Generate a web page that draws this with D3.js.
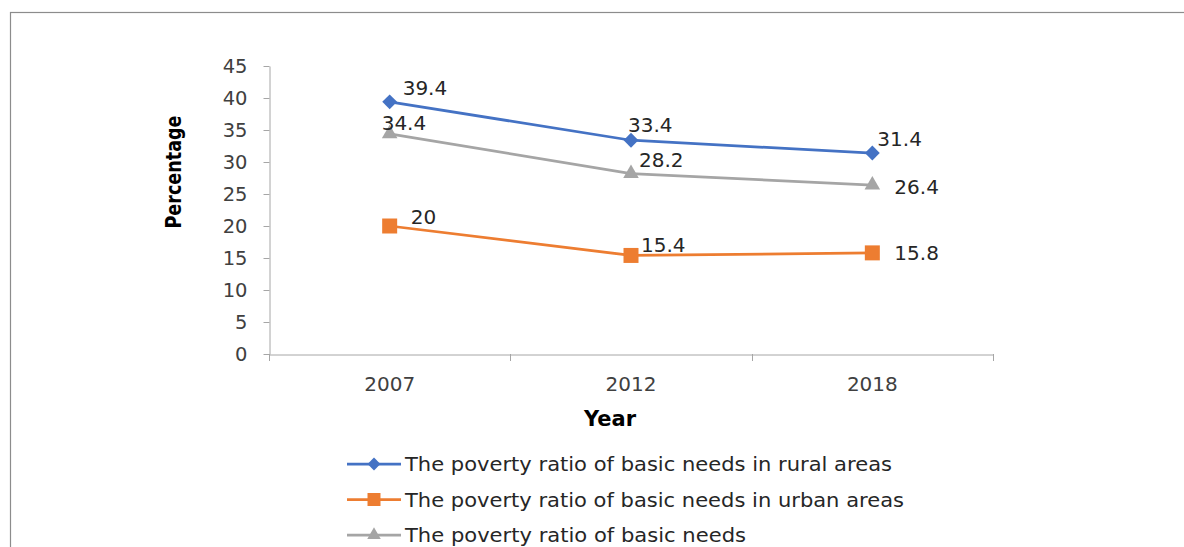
<!DOCTYPE html>
<html>
<head>
<meta charset="utf-8">
<script src="https://cdn.jsdelivr.net/npm/d3@7"></script>
<style>
  html, body { margin: 0; padding: 0; background: #fff; }
  svg { display: block; }
</style>
</head>
<body>
<svg id="chart" width="1184" height="547"></svg>
<script>
// ---- data ----
const years = ["2007", "2012", "2018"];
const rural = [39.4, 33.4, 31.4];
const urban = [20, 15.4, 15.8];
const overall = [34.4, 28.2, 26.4];
const seriesNames = [
  "The poverty ratio of basic needs in rural areas",
  "The poverty ratio of basic needs in urban areas",
  "The poverty ratio of basic needs"
];
const yTicks = [0, 5, 10, 15, 20, 25, 30, 35, 40, 45];

// ---- styling (label placement relative to point) ----
const colors = ["#4472C4", "#ED7D31", "#A5A5A5"];
const labelOffsets = [
  [[13, -7], [-3, -8], [5, -7]],
  [[21, -2], [10, -3], [22, 7]],
  [[-8, -4], [8, -7], [22, 9]]
];
const legendWidths = [487, 499, 341];

const svg = d3.select("#chart");
const font = "'DejaVu Sans', sans-serif";

// outer frame
svg.append("rect").attr("x", 10.5).attr("y", 12.5)
  .attr("width", 1300).attr("height", 700)
  .attr("fill", "none").attr("stroke", "#8c8c8c").attr("stroke-width", 1.2);

const x = d3.scaleBand().domain(years).range([269, 993]);
const y = d3.scaleLinear().domain([0, 45]).range([354, 66]);

// y axis
const yAxis = svg.append("g").attr("transform", "translate(269.5,0)")
  .call(d3.axisLeft(y).tickValues(yTicks).tickSize(6).tickSizeOuter(0).tickPadding(16));
yAxis.select(".domain").attr("stroke", "#a6a6a6");
yAxis.selectAll(".tick line").attr("stroke", "#a6a6a6");
yAxis.selectAll(".tick text").attr("font-family", font).attr("font-size", 19.5).attr("fill", "#404040");

// x axis
const xAxis = svg.append("g").attr("transform", "translate(0,354.5)")
  .call(d3.axisBottom(x).tickSize(0).tickPadding(22));
xAxis.select(".domain").attr("stroke", "#a6a6a6");
xAxis.selectAll(".tick text").attr("font-family", font).attr("font-size", 20).attr("fill", "#404040");
// category boundary ticks
const bounds = years.map(d => x(d)).concat([x(years[years.length - 1]) + x.bandwidth()]);
svg.append("g").selectAll("line").data(bounds).join("line")
  .attr("x1", d => Math.round(d) + 0.5).attr("x2", d => Math.round(d) + 0.5)
  .attr("y1", 354).attr("y2", 361).attr("stroke", "#a6a6a6");

// axis titles
svg.append("text").attr("transform", "translate(181,172) rotate(-90)")
  .attr("text-anchor", "middle").attr("font-family", font).attr("font-weight", "bold")
  .attr("font-size", 21).attr("fill", "#000")
  .attr("textLength", 113).attr("lengthAdjust", "spacingAndGlyphs")
  .text("Percentage");
svg.append("text").attr("x", 610).attr("y", 426)
  .attr("text-anchor", "middle").attr("font-family", font).attr("font-weight", "bold")
  .attr("font-size", 21).attr("fill", "#000")
  .attr("textLength", 52).attr("lengthAdjust", "spacingAndGlyphs")
  .text("Year");

const series = [rural, urban, overall];
const cx = d => x(d) + x.bandwidth() / 2;
const symbols = [
  { type: d3.symbolSquare, size: 110, rotate: 45 },
  { type: d3.symbolSquare, size: 225, rotate: 0 },
  { type: d3.symbolTriangle, size: 105, rotate: 0 }
];
const line = d3.line().x((d, i) => cx(years[i])).y(d => y(d));

// draw in order: overall, urban, rural
[2, 1, 0].forEach(si => {
  const vals = series[si];
  const g = svg.append("g");
  g.append("path").datum(vals).attr("d", line)
    .attr("fill", "none").attr("stroke", colors[si]).attr("stroke-width", 2.75);
  g.selectAll("path.m").data(vals).join("path").attr("class", "m")
    .attr("d", d3.symbol().type(symbols[si].type).size(symbols[si].size))
    .attr("transform", (d, i) => `translate(${cx(years[i])},${y(d)}) rotate(${symbols[si].rotate})`)
    .attr("fill", colors[si]);
  g.selectAll("text").data(vals).join("text")
    .attr("x", (d, i) => cx(years[i]) + labelOffsets[si][i][0])
    .attr("y", (d, i) => y(d) + labelOffsets[si][i][1])
    .attr("font-family", font).attr("font-size", 20).attr("fill", "#262626")
    .text(d => d);
});

// legend
const legend = svg.append("g");
seriesNames.forEach((name, i) => {
  const ly = 464 + i * 35.5;
  legend.append("line").attr("x1", 347).attr("x2", 401).attr("y1", ly).attr("y2", ly)
    .attr("stroke", colors[i]).attr("stroke-width", 2.75);
  legend.append("path")
    .attr("d", d3.symbol().type(symbols[i].type).size(symbols[i].size * 0.75))
    .attr("transform", `translate(374,${ly}) rotate(${symbols[i].rotate})`)
    .attr("fill", colors[i]);
  legend.append("text").attr("x", 405).attr("y", ly + 7)
    .attr("font-family", font).attr("font-size", 19.5).attr("fill", "#262626")
    .attr("textLength", legendWidths[i]).attr("lengthAdjust", "spacingAndGlyphs")
    .text(name);
});
</script>
</body>
</html>
